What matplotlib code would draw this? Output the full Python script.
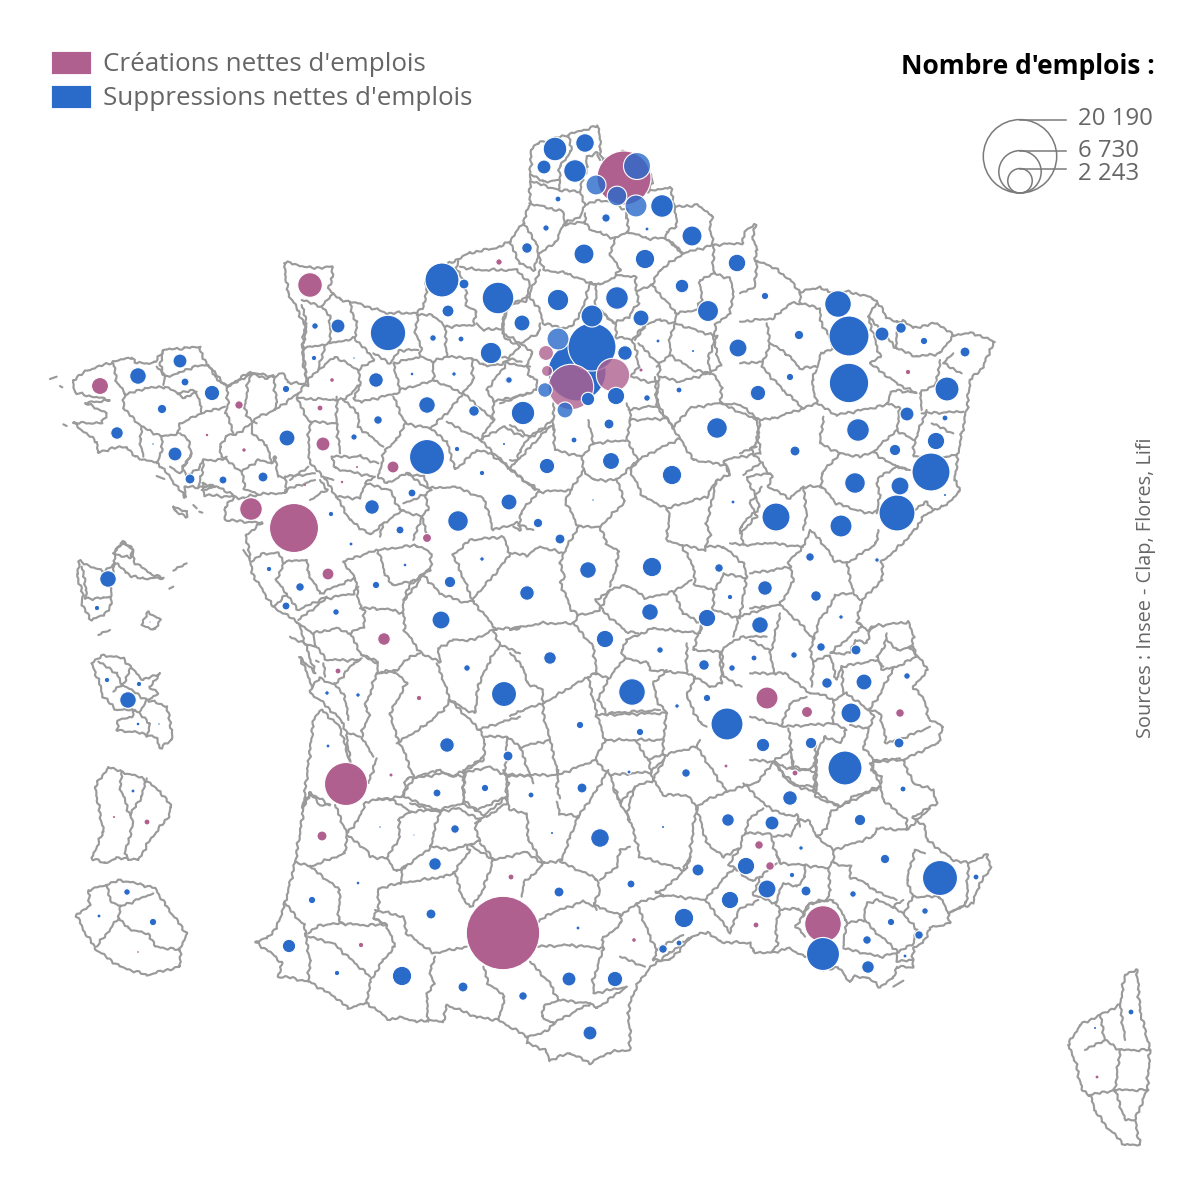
import numpy as np
import matplotlib
matplotlib.use("Agg")
import matplotlib.pyplot as plt
from matplotlib.patches import Circle, Rectangle
from matplotlib.collections import LineCollection

BLUE = "#2a6bca"
PURPLE = "#b0608f"
GREY = "#9a9a9a"
TXT = "#666666"
plt.rcParams["font.family"] = ["Open Sans", "DejaVu Sans"]

# bubbles: x, y, number of jobs
crea_x = [503,294,346,624,823,251,310,100,767,323,393,328,384,322,807,900,427,239,320,499,338,419,795,759,770,756,511,361,634,147,1097,908,332,357,342,305,207,244,391,726,114,138,641]
crea_y = [933,528,784,178,924,509,285,386,698,444,467,574,639,836,712,713,538,405,408,262,671,698,773,845,866,925,877,945,940,822,1077,372,380,467,482,485,435,450,775,766,817,952,370]
crea_n = [20190,9004,6934,10935,5023,1915,2269,1084,1815,735,540,540,595,375,454,277,304,265,135,154,135,109,135,277,277,135,135,109,49,135,60,109,49,15,22,15,22,43,34,60,15,10,34]
crea_fade_x = [571,613,546,547]
crea_fade_y = [387,375,353,371]
crea_fade_n = [7729,4183,844,454]

supp_x = [555,585,544,575,662,558,606,546,647,692,527,584,645,737,498,558,617,682,708,522,641,592,592,577,625,616,588,609,523,508,647,679,658,693,738,757,717,
          442,464,448,388,338,315,314,354,433,461,491,376,412,454,509,427,474,378,354,287,427,457,504,482,547,412,372,331,400,458,509,538,351,
          180,138,185,212,162,117,175,153,190,223,263,286,
          269,300,286,376,405,450,482,441,336,467,504,358,327,328,447,508,485,437,
          574,611,672,733,593,560,588,652,527,719,730,765,760,650,707,605,550,660,754,704,732,707,632,677,580,640,727,
          838,849,849,882,901,924,965,947,907,945,936,931,858,895,900,855,897,945,841,776,765,799,790,758,795,
          810,877,816,841,794,821,856,907,827,864,851,899,811,763,845,903,790,860,
          629,686,728,772,663,801,885,698,746,631,792,940,976,767,806,853,730,925,891,684,867,919,905,663,679,823,868,
          531,582,455,552,600,380,414,435,358,559,312,431,578,289,337,402,463,523,569,615,590,
          108,97,150,107,139,128,138,159,133,127,99,153,1131,1095]
supp_y = [149,143,167,171,206,199,218,228,229,236,248,254,259,263,298,300,298,286,311,323,318,316,347,372,353,396,399,424,413,380,398,390,341,351,348,393,428,
          280,284,311,333,326,326,358,358,338,339,353,380,374,374,380,405,411,420,437,438,457,449,444,473,466,493,507,514,530,521,502,523,544,
          361,376,382,393,409,433,454,444,479,480,477,389,
          569,587,606,585,565,582,559,620,612,668,694,695,693,746,745,756,788,793,
          440,461,475,502,500,539,570,567,593,568,597,588,625,612,618,639,658,650,658,665,668,698,692,706,725,732,724,
          304,336,383,334,328,341,352,389,414,418,441,472,430,450,486,483,513,495,526,517,296,335,377,393,451,
          557,560,596,617,655,647,650,676,683,682,713,743,743,745,768,789,798,820,
          772,773,820,823,827,848,859,870,866,884,875,878,877,889,891,894,900,911,922,918,940,935,956,949,943,954,967,
          795,788,829,833,838,827,835,864,883,892,900,914,928,946,973,976,987,996,979,979,1033,
          579,608,622,680,684,700,724,724,791,892,916,922,1012,1028]
supp_n = [2089,1297,735,1915,1915,135,265,154,60,1500,421,1500,1411,1162,3745,1717,1915,694,1654,960,960,1815,8640,12615,799,1135,673,375,2054,163,163,135,60,15,1215,889,1591,
          4335,375,540,4699,735,163,109,7,163,135,1717,799,25,79,163,1033,421,277,154,960,4594,109,15,109,889,240,799,109,240,1591,960,331,60,
          735,1033,240,889,331,595,735,7,375,240,375,205,
          109,277,240,205,25,487,79,1215,163,163,2344,79,79,60,799,375,205,240,
          135,1084,1411,60,7,375,1033,1411,799,277,109,799,1033,1033,1135,1135,595,163,135,421,163,205,2653,79,205,205,3840,
          2653,6000,5821,735,421,205,375,2160,735,135,1135,5415,1915,487,1215,1591,4860,15,1815,2940,205,331,205,889,375,
          277,79,421,79,163,277,375,163,421,960,1500,375,487,673,4335,135,799,487,
          60,277,595,735,15,79,331,540,1135,240,109,4594,135,1215,375,163,1135,163,205,1411,277,277,60,277,135,4084,595,
          135,375,277,15,1297,7,4,595,25,375,205,375,60,673,109,1411,375,277,735,889,735,
          1033,109,4,109,109,1033,25,7,60,163,60,205,135,15]
supp_fade_x = [637,596,617,636,558,545,565]
supp_fade_y = [166,185,196,206,339,390,410]
supp_fade_n = [2734,1500,1441,1815,1815,799,960]

legend_labels = ["Créations nettes d'emplois", "Suppressions nettes d'emplois"]
legend_vals = [20190, 6730, 2243]
legend_txt = ["20 190", "6 730", "2 243"]
legend_txt_y = [119, 151, 174]

france = [(531,150),(538,143),(567,135),(597,126),(600,133),(600,150),(603,160),(623,152),(650,170),(652,183),(647,192),(670,187),(675,207),(697,205),(712,215),(710,227),(713,245),(743,243),(745,230),(755,225),(753,240),(757,250),(755,262),(765,263),(777,270),(790,280),(800,292),(820,287),(828,292),(850,292),(873,298),(878,303),(887,317),(897,323),(903,320),(913,328),(937,323),(953,335),(973,333),(995,342),(990,350),(983,367),(970,380),(967,407),(962,433),(958,453),(955,480),(960,492),(943,507),(933,510),(923,517),(915,530),(903,543),(882,562),(882,580),(862,600),(857,622),(868,630),(877,625),(883,625),(908,622),(914,637),(910,648),(917,655),(928,670),(913,687),(925,700),(928,718),(943,727),(938,743),(903,760),(913,783),(933,790),(937,803),(913,817),(925,827),(927,840),(953,860),(968,863),(987,855),(991,867),(978,887),(973,903),(948,913),(950,923),(930,928),(923,943),(913,948),(913,967),(897,967),(893,978),(880,987),(867,977),(853,977),(850,982),(838,967),(823,970),(807,957),(787,948),(773,953),(753,952),(750,943),(720,942),(708,932),(690,937),(670,953),(653,965),(640,980),(632,997),(628,1013),(630,1030),(630,1050),(610,1052),(590,1063),(570,1053),(550,1060),(545,1050),(527,1043),(528,1037),(498,1020),(477,1017),(447,1005),(443,1022),(427,1020),(415,1022),(403,1017),(390,1020),(367,1003),(348,1008),(335,997),(310,982),(287,977),(278,977),(282,963),(270,952),(255,942),(267,938),(277,927),(285,903),(295,863),(302,820),(303,808),(310,793),(320,805),(330,805),(310,793),(303,808),(314,717),(322,710),(340,727),(350,763),(347,737),(343,722),(320,700),(310,693),(312,685),(300,657),(315,673),(298,622),(273,607),(252,573),(250,558),(246,535),(262,523),(225,520),(225,507),(235,497),(205,495),(202,483),(215,487),(185,487),(185,497),(162,467),(157,463),(135,457),(127,447),(112,448),(98,453),(97,442),(73,423),(102,423),(107,413),(85,403),(110,400),(75,393),(73,380),(88,370),(113,362),(132,357),(135,363),(155,363),(163,350),(185,348),(200,347),(202,357),(208,365),(227,387),(245,375),(252,372),(272,377),(283,373),(288,382),(308,385),(305,367),(302,347),(305,327),(298,310),(288,293),(284,263),(290,263),(310,268),(332,267),(333,277),(328,288),(340,300),(353,302),(387,313),(417,313),(423,307),(427,292),(425,283),(450,263),(470,253),(500,247),(509,242),(523,223),(530,203),(530,185),(531,150)]
corsica = [(1125,975),(1137,970),(1140,1010),(1150,1050),(1147,1090),(1135,1120),(1140,1145),(1125,1145),(1105,1125),(1095,1110),(1090,1095),(1082,1090),(1075,1060),(1068,1045),(1080,1025),(1100,1015),(1120,1005),(1125,975)]
corsica_in = [[(1100,1015),(1105,1040),(1120,1050),(1150,1050)],[(1120,1050),(1115,1090),(1147,1090)],[(1085,1050),(1105,1040)],[(1090,1095),(1115,1090)],[(1115,1090),(1125,1120),(1135,1120)],[(1120,1005),(1125,1040)]]
raccords = [[(510,653),(523,667),(527,683),(543,690),(543,703),(520,711),(510,716)],[(543,703),(543,713),(550,740)],[(507,737),(520,747),(550,740)],[(520,747),(530,775)],[(530,775),(558,775),(595,760)],[(550,740),(558,775)],[(530,775),(505,775),(507,737)],[(588,677),(597,715),(605,740),(595,760),(610,775),(620,803)],[(610,775),(650,772),(664,760),(663,740),(605,740)],[(597,715),(667,713)],[(653,780),(664,760)],[(713,337),(720,365),(712,372),(722,388),(720,403),(740,405)],[(720,403),(757,420)],[(655,377),(657,403),(673,428),(680,438)],[(673,428),(690,408),(720,403)],[(770,543),(803,547)],[(510,630),(520,627)]]

# same thing but read on 3x crops, so they keep the crop origin
nord = [[(205,75),(215,125),(180,165),(178,240),(240,245),(250,200),(262,170),(258,140),(290,130),(300,150)],[(95,195),(130,215),(178,210)],[(95,215),(178,240)],[(240,245),(255,290),(240,320),(205,335),(195,345),(190,305),(130,290),(88,280)],[(255,285),(300,270),(330,275),(380,300),(378,325)],[(380,315),(385,365),(440,385),(495,385),(500,365),(530,350),(525,290)],[(255,310),(255,340),(275,360),(300,370),(345,385),(385,365)],[(195,345),(255,335)],[(345,385),(330,430),(360,480),(345,500),(300,525),(260,515),(200,490),(130,480),(115,430),(165,400),(190,345)],[(28,395),(60,460),(100,480),(115,440)],[(70,340),(110,400),(115,440)],[(495,385),(550,430),(480,480),(455,525),(410,545),(405,500),(350,495)],[(505,390),(550,430),(640,405)],[(640,405),(640,490),(690,505),(700,545)],[(640,490),(600,510),(605,570),(590,600),(530,610),(455,525)],[(700,545),(690,610),(650,640),(640,680)],[(410,545),(415,580),(385,620),(345,640),(285,590),(290,525),(270,520)],[(120,480),(85,560),(115,590),(130,640),(190,655),(215,650),(240,610),(250,590),(270,520)],[(285,590),(345,640),(350,680),(395,690),(440,640),(480,630),(525,640),(530,610)],[(395,690),(410,725),(415,770),(390,800)],[(440,640),(405,690)],[(525,640),(510,680),(510,735),(580,780),(630,790),(625,740),(650,680),(525,640)],[(415,700),(470,755),(480,770),(475,815),(470,890),(520,950)],[(470,770),(510,735)],[(480,800),(540,815),(625,790)],[(395,800),(440,815),(475,815)],[(380,880),(385,900),(440,890),(470,890)],[(390,900),(390,930),(500,925)],[(120,640),(115,670),(60,700),(10,670),(5,640),(30,585),(85,560)],[(60,700),(100,730),(80,760),(90,800),(110,810),(110,840),(0,880)],[(0,740),(65,755)],[(160,880),(160,960)]]
ouest = [[(205,310),(215,365),(240,400),(235,445)],[(240,405),(300,385),(360,380),(400,400),(420,415),(455,395)],[(360,350),(345,310),(355,270)],[(335,320),(360,350),(400,340),(445,320),(490,315)],[(360,350),(355,375)],[(400,400),(450,390),(465,430),(470,460)],[(490,315),(510,350),(545,380),(550,430),(540,460)],[(470,460),(540,440)],[(235,445),(290,500),(350,530),(400,520),(405,490),(470,460)],[(290,500),(285,540),(295,590)],[(350,530),(350,580),(335,610)],[(405,520),(430,540),(440,580),(405,640),(375,620)],[(440,580),(415,620),(425,650),(465,620),(475,600),(530,600),(545,590)],[(475,600),(470,650),(460,680)],[(530,590),(525,560),(545,525),(570,525),(620,490)],[(545,460),(565,520)],[(530,590),(590,635),(640,600),(680,610),(690,590),(700,650),(720,655)],[(590,635),(600,685),(640,705),(580,715),(520,680),(470,690)],[(620,520),(665,555),(680,610)],[(620,490),(640,470),(690,450),(760,400)],[(620,490),(620,520)],[(720,650),(810,640)],[(550,380),(620,340),(610,365),(600,440),(605,470),(635,490)],[(615,340),(660,355),(685,345),(695,430),(690,450)],[(720,650),(725,700),(670,700),(640,705)],[(720,690),(810,660)]]
centre_ouest = [[(35,95),(70,70),(115,70),(130,95),(200,90)],[(200,90),(205,130),(240,190),(320,155),(345,145),(310,95)],[(130,100),(110,150),(140,195),(100,230)],[(140,195),(175,240),(260,200)],[(175,270),(260,205),(340,190),(355,170)],[(345,145),(360,230),(375,245),(370,290),(330,310),(290,295),(220,310),(175,280)],[(220,310),(225,345)],[(330,310),(365,375),(410,400)],[(360,235),(410,235),(460,240),(490,250),(490,210),(510,165),(570,115)],[(310,95),(380,70),(415,60),(435,130),(455,165),(515,155),(570,120),(575,70),(530,45),(420,60)],[(490,250),(495,300),(525,345),(550,375)],[(540,370),(510,380),(470,420),(410,430)],[(365,375),(415,395),(410,430),(390,490),(375,530),(390,560),(365,600),(370,630),(400,680)],[(410,430),(465,425),(500,460),(450,550),(470,620),(490,660)],[(225,345),(260,390),(360,390)],[(215,470),(240,445),(285,465),(340,400),(365,385)],[(250,400),(255,440)],[(285,465),(315,500),(325,570)],[(325,610),(360,620)],[(550,375),(600,395),(595,355),(640,330),(700,330),(760,300),(780,345),(750,390),(715,465),(705,550),(680,540),(630,510),(610,450),(590,400)],[(630,510),(610,540),(550,590),(470,640)],[(490,660),(520,740),(500,745),(490,800),(410,810)],[(330,700),(385,760),(410,685)],[(630,510),(720,600),(735,640),(730,690),(640,740),(590,720),(520,745)],[(735,620),(800,620)],[(715,600),(790,575),(840,560)],[(730,680),(675,720),(670,820),(740,860)],[(670,730),(745,710),(800,735),(800,820),(740,860)],[(490,800),(590,840),(670,820)],[(495,210),(550,135),(600,190),(665,215),(700,215),(755,280),(770,300)],[(700,215),(640,75),(690,30),(790,20),(810,70),(775,120),(700,205)],[(760,300),(840,290)],[(780,345),(840,370)]]
sud_ouest = [[(255,105),(290,190),(325,150),(345,100),(385,85),(430,90),(480,125)],[(290,195),(285,250),(180,290),(135,275)],[(290,195),(350,240),(360,260),(410,265),(440,305),(470,285)],[(410,265),(450,200),(445,150),(480,125),(550,120),(570,125),(550,190),(545,230),(460,295),(450,340),(385,355),(385,415),(370,445),(400,460)],[(180,290),(250,345),(270,360),(265,450),(285,465)],[(480,100),(560,125),(625,115),(690,150),(675,175),(690,215),(650,225)],[(545,230),(610,240),(650,225),(660,240),(610,310),(580,320),(450,340)],[(615,310),(640,390),(660,410),(690,380),(720,300),(730,270),(660,225)],[(690,220),(735,270),(830,245),(880,285),(820,340),(815,380)],[(835,210),(880,280),(935,270),(960,200),(985,140),(930,130),(920,95)],[(835,210),(830,130),(780,120),(770,80),(675,160)],[(930,275),(1040,325),(1050,370),(1030,400),(1040,420)],[(860,460),(900,430),(1000,395),(1110,435),(1115,460),(1055,510),(1060,535)],[(860,530),(960,525),(1060,535),(1030,630),(1030,670),(1130,650)],[(840,575),(900,640),(925,690),(880,710),(875,740),(910,760),(890,785),(830,800)],[(650,530),(550,550),(470,490),(460,440),(375,420)],[(700,590),(715,640),(765,680),(745,750)],[(555,560),(540,600),(550,640),(530,680),(535,755)],[(370,445),(410,465),(435,530),(400,570),(360,635),(350,700)],[(175,490),(210,465),(280,460),(330,465),(410,465)],[(165,490),(180,570),(175,635)],[(175,500),(250,520),(360,620)],[(105,400),(160,465),(170,495)],[(910,760),(1020,700),(1040,715),(1130,650)],[(925,690),(1020,700)],[(455,80),(490,25),(580,10),(640,20)],[(640,0),(640,90),(680,120),(770,80),(775,40),(760,0)],[(770,20),(840,15),(850,40)],[(930,85),(920,45),(925,0)],[(985,140),(1040,60),(1075,0)],[(1090,60),(1140,150)],[(1140,230),(1110,240),(1100,290),(1050,330)]]
sud_est = [[(0,190),(45,140),(100,120),(130,165),(200,165),(230,200)],[(100,120),(85,60),(110,50),(230,20),(240,0)],[(85,60),(45,0)],[(230,20),(290,110),(320,155),(415,125)],[(320,155),(260,180),(230,200),(260,310),(310,350),(355,325)],[(230,200),(220,260),(210,350),(190,390),(60,350),(40,270),(20,220),(45,140)],[(415,125),(460,65),(490,80),(520,85),(510,30)],[(370,130),(435,195),(490,225),(530,225),(540,260)],[(460,65),(510,130),(580,155),(585,95),(510,85)],[(580,155),(660,200),(630,220),(620,265),(590,290),(640,330),(760,290),(770,265),(860,270),(930,205)],[(660,200),(780,140),(790,180),(860,240),(860,270)],[(585,0),(590,150)],[(780,130),(750,70),(840,55)],[(640,335),(640,370),(690,380),(690,410),(740,430),(760,450),(830,480)],[(385,240),(430,205)],[(385,240),(375,280),(365,300),(360,325),(325,375)],[(375,280),(450,280),(470,345),(480,370)],[(460,290),(510,285),(540,240),(565,240),(590,290)],[(470,345),(480,370),(550,375),(625,385),(635,365)],[(325,375),(345,385),(395,425),(420,410),(470,370)],[(420,410),(400,465),(470,490),(480,445),(490,430)],[(490,430),(530,440),(555,410),(555,375)],[(625,385),(630,450),(620,480),(565,490),(550,520)],[(255,480),(330,395),(345,385)],[(255,480),(310,550),(330,580)],[(130,450),(200,385),(210,350)],[(130,450),(105,455),(125,465),(175,470),(255,480)],[(50,490),(90,590),(110,630)],[(50,490),(130,465)],[(330,580),(355,510),(415,480)],[(465,490),(480,510),(465,570),(475,610),(455,635)],[(480,510),(535,505),(550,520),(530,560),(555,590)],[(550,530),(570,490),(640,480),(680,540),(670,620)],[(670,625),(780,650),(825,640)],[(680,550),(730,540),(740,490),(770,480),(820,500),(850,480)],[(735,540),(760,570),(830,630),(830,665)],[(830,640),(880,610),(890,570),(850,520),(880,470),(960,470),(985,520)],[(850,520),(820,500)],[(880,470),(860,420),(885,330),(915,340)],[(1045,370),(1040,490),(985,520)],[(830,665),(880,660)],[(0,650),(75,680)],[(110,630),(100,660),(150,660),(215,590)],[(110,630),(150,605),(190,585)],[(0,530),(50,490)]]
est = [[(0,130),(70,120),(120,110),(115,95),(160,50),(180,0)],[(180,0),(210,30),(240,70),(250,90),(290,100),(380,40),(385,0)],[(290,100),(310,190),(330,210)],[(120,110),(130,155),(90,225),(160,290),(190,330),(210,265),(240,230),(255,195),(305,190)],[(0,235),(90,225)],[(90,250),(60,380),(75,430),(105,430),(180,490)],[(190,330),(180,360),(190,395),(185,470)],[(190,395),(240,375),(260,450),(275,410),(380,390),(400,410)],[(320,275),(335,290),(240,370),(300,370),(315,330),(350,340),(360,300),(375,290)],[(410,310),(400,360),(380,380),(400,420),(440,410),(500,380)],[(410,330),(440,360),(490,350),(500,380)],[(430,415),(380,510),(355,540),(290,490),(250,510),(205,490),(180,490)],[(275,410),(280,490)],[(250,510),(250,580),(290,600),(270,640),(225,620),(200,670),(195,800),(270,830)],[(100,590),(250,580)],[(115,595),(125,660),(70,695),(110,740),(135,765),(195,770)],[(125,680),(130,710),(180,720),(200,690)],[(360,545),(370,560),(340,650),(370,690),(460,690)],[(360,540),(390,550),(410,640),(470,620),(540,590)],[(355,595),(300,585)],[(370,690),(365,720),(395,740),(390,770),(310,800),(270,830)],[(0,430),(75,430)],[(95,585),(120,520),(170,500)],[(60,360),(0,330)],[(0,560),(100,590)],[(0,690),(70,695)]]
centre = [[(0,15),(60,50),(130,0)],[(130,15),(135,90),(215,110),(250,70),(235,0)],[(0,120),(20,125),(30,90),(60,50),(130,15)],[(215,110),(220,150),(250,180),(320,180),(385,120),(350,60),(250,70)],[(385,120),(360,150),(400,230),(470,265),(480,290),(470,340),(475,365),(515,375),(550,440)],[(360,0),(350,60)],[(385,120),(440,90),(510,55),(550,120),(650,135),(660,165),(620,180),(590,230),(470,265)],[(660,165),(640,120),(750,100),(740,0)],[(320,180),(345,245),(270,320),(290,370),(325,395),(320,440),(300,500)],[(220,150),(165,240),(185,280),(205,320),(270,320)],[(0,150),(70,200),(90,215),(185,210)],[(85,215),(30,280),(30,330),(10,320)],[(205,320),(160,400),(90,380)],[(160,400),(150,430),(165,470),(150,485),(185,570),(205,585),(265,575),(300,510)],[(0,400),(50,405),(90,380)],[(205,585),(190,610),(90,610),(0,630)],[(190,610),(250,680),(260,760),(235,770),(100,850)],[(300,510),(260,540),(280,575),(350,635),(385,640)],[(300,510),(350,495),(410,535),(490,515),(545,480)],[(490,515),(520,580),(575,610),(550,690),(630,695),(660,670)],[(575,610),(570,640),(430,625),(350,660),(335,690),(345,715),(415,730),(420,750),(530,760)],[(250,760),(295,775),(345,715)],[(295,775),(265,840),(290,880),(450,870)],[(530,670),(530,760),(555,770),(600,800),(635,790),(630,695)],[(635,695),(640,770),(695,800)],[(555,770),(530,830),(570,910),(590,920)],[(660,670),(700,650),(770,650)],[(470,750),(430,790),(440,840),(470,880),(460,960)],[(515,375),(585,390),(600,340),(590,310),(620,180)],[(550,440),(555,495),(610,510),(635,480),(640,460),(710,475)],[(585,380),(640,380),(700,430),(710,470),(695,560),(670,650)],[(610,510),(610,570),(690,595)],[(660,370),(700,375),(780,370)],[(700,370),(690,320),(750,260),(710,170),(780,160)],[(690,590),(780,560)]]
nord_est = [[(50,125),(45,200),(0,220)],[(180,215),(180,250),(150,250),(100,295),(0,305)],[(180,250),(240,265),(240,300),(265,345),(280,385)],[(80,310),(90,370),(140,400),(180,445),(230,440),(245,400),(280,385)],[(90,370),(65,440),(130,510),(190,565),(230,550),(215,480),(230,450)],[(65,425),(0,430)],[(230,550),(290,585),(440,555),(450,520),(470,510),(530,520),(470,490),(390,430),(420,410),(385,290),(410,250)],[(385,290),(470,385),(470,320)],[(470,385),(530,410),(600,400),(640,345)],[(600,420),(590,490),(540,520),(545,570)],[(665,460),(610,430),(640,400)],[(440,550),(480,565),(470,630),(520,660)],[(545,580),(670,575)],[(560,570),(525,660),(520,710),(620,710),(650,705)],[(575,610),(640,640)],[(470,630),(400,695),(440,725),(500,750)],[(60,600),(100,595),(190,565)],[(60,600),(50,670),(30,685),(65,730),(95,770),(85,800),(150,835),(190,800),(245,800)],[(250,590),(240,670),(300,700),(360,710),(400,695)],[(300,700),(245,760),(245,800),(290,850),(380,880),(415,870)],[(60,600),(0,555)],[(190,805),(200,880),(190,930)],[(410,790),(420,770),(470,740),(510,750)],[(410,790),(420,830),(410,880)],[(525,870),(560,845),(580,870)],[(0,700),(50,680)],[(10,765),(60,730)],[(65,800),(30,850),(50,890),(0,940)]]
normandie = [[(35,150),(95,170),(130,130)],[(35,165),(50,220),(40,290),(40,340),(50,390)],[(95,170),(120,200),(120,280),(40,295)],[(105,285),(85,360),(50,390)],[(180,155),(185,190),(200,215),(195,265),(120,280)],[(195,270),(240,310),(250,330),(205,360),(135,320),(85,360)],[(250,310),(300,340),(330,300),(385,300)],[(385,195),(375,240),(395,300),(390,320),(310,340),(330,420)],[(380,195),(430,195),(465,230),(550,225),(560,185),(530,170),(525,100),(500,60),(505,30)],[(465,230),(470,320),(430,335),(395,320)],[(470,320),(545,325),(550,390),(520,430),(430,390),(430,335)],[(205,360),(210,405),(160,450),(20,445),(50,390)],[(210,405),(190,445),(215,455),(320,430),(330,420),(420,395),(430,390)],[(545,325),(580,345),(635,345),(690,290),(640,260),(640,235),(580,240),(560,220)],[(640,230),(650,170),(710,150),(720,100),(680,60),(560,60),(510,50)],[(310,440),(345,520),(420,535),(470,490),(520,430)],[(160,450),(205,490),(205,530),(280,590)],[(345,520),(320,570),(285,600),(275,640),(265,680),(290,700),(350,670),(400,680),(420,715),(495,710)],[(420,535),(470,575),(490,640),(495,660),(560,600),(600,610),(660,655)],[(470,515),(570,570),(610,510),(610,450),(590,420),(650,340),(720,350)],[(520,430),(610,510)],[(610,455),(720,430)],[(570,570),(660,655),(750,560),(780,530)],[(570,570),(640,530),(700,560)],[(660,655),(735,720)],[(495,710),(580,745),(590,770),(610,840),(680,820),(730,840)],[(405,735),(415,780),(395,800),(410,850)],[(350,670),(420,720),(405,735),(340,760)],[(20,445),(60,520),(55,570),(60,640)],[(140,440),(140,520),(150,610)],[(60,515),(140,520)],[(60,640),(100,680),(130,690)],[(125,620),(210,620),(265,640)],[(125,620),(135,655),(250,680)],[(100,680),(140,740),(210,745),(225,700),(255,680)],[(140,740),(180,810),(240,855),(280,820)],[(225,700),(300,720),(330,780),(395,800)],[(270,860),(280,820),(340,780)],[(370,870),(395,800)],[(0,690),(55,650)],[(90,690),(110,720),(60,750)]]
domtom = [[(165,65),(190,35),(215,50),(222,95),(270,130),(310,145),(250,145),(215,140),(200,125),(165,100),(165,65)],[(165,100),(130,125),(60,95),(50,130),(70,200),(65,225),(95,270),(130,255),(155,225),(150,150),(165,100)],[(65,110),(80,180),(75,205),(130,205),(150,200)],[(245,285),(265,245),(300,270),(285,300),(245,285)],[(115,315),(150,300)],[(340,122),(380,100)],[(328,176),(340,170)],[(95,400),(130,375),(190,385),(215,415),(250,450),(300,430),(270,470),(295,490),(265,510),(320,530),(335,600),(335,630),(300,655),(290,625),(250,610),(170,600),(175,570),(215,560),(225,540),(170,540),(130,500),(115,450),(95,400)],[(115,395),(170,430),(185,465),(160,485)],[(210,415),(190,465),(260,510),(240,545)],[(225,540),(270,580),(260,620)],[(145,712),(185,725),(250,745),(300,785),(335,830),(325,860),(270,930),(235,990),(200,985),(165,985),(135,1000),(95,985),(130,905),(105,770),(145,712)],[(185,725),(180,770),(210,855),(220,880),(195,970),(205,990)],[(210,855),(245,800),(260,745)],[(140,1065),(180,1050),(250,1065),(285,1075),(320,1130),(380,1210),(360,1260),(360,1310),(260,1335),(180,1310),(110,1260),(70,1200),(50,1155),(90,1125),(85,1080),(140,1065)],[(140,1065),(150,1110),(180,1130),(280,1090)],[(180,1130),(175,1165),(110,1250)],[(175,1165),(205,1195),(270,1215),(285,1250),(360,1260)]]
iles = [[(15,357),(35,350)],[(45,378),(52,382)],[(55,493),(65,498)],[(335,648),(358,657)],[(385,740),(390,755),(425,770),(425,755),(385,740)],[(445,735),(455,745)],[(463,755),(472,758)],[(595,870),(605,885),(615,895)],[(205,880),(235,845),(262,870),(255,895),(205,880)]]
re_oleron = [[(150,320),(165,330),(225,350)],[(228,392),(236,396)]]
sud_corse = [[(820,740),(850,722)]]


def from_crop(lines, x0, y0):
    return [[(x0 + px / 3, y0 + py / 3) for px, py in line] for line in lines]


def rough(line):
    # borders are jagged on the map, the traced points are not
    pts = np.array(line, dtype=float)
    d = np.hypot(*np.diff(pts, axis=0).T)
    keep = np.r_[True, d > 0]
    pts = pts[keep]
    s = np.r_[0, np.cumsum(np.hypot(*np.diff(pts, axis=0).T))]
    if s[-1] < 12:
        return pts
    t = np.arange(0, s[-1], 2.5)
    t = np.union1d(np.r_[t, s[-1]], s)
    x = np.interp(t, s, pts[:, 0])
    y = np.interp(t, s, pts[:, 1])
    dx, dy = np.gradient(x), np.gradient(y)
    n = np.hypot(dx, dy) + 1e-9
    w = 0.75 * np.sin(t * 0.83) + 0.55 * np.sin(t * 1.9 + 1) + 0.5 * np.sin(t * 0.31 + 2)
    w *= np.clip(np.minimum(t, s[-1] - t) / 6, 0, 1)
    return np.c_[x - dy / n * w, y + dx / n * w]


segs = [france, corsica] + corsica_in + raccords
segs += from_crop(nord, 500, 110)
segs += from_crop(ouest, 45, 260)
segs += from_crop(iles, 45, 260)
segs += from_crop(centre_ouest, 240, 530)
segs += from_crop(re_oleron, 240, 530)
segs += from_crop(sud_ouest, 250, 770)
segs += from_crop(sud_est, 620, 740)
segs += from_crop(sud_corse, 620, 740)
segs += from_crop(est, 750, 530)
segs += from_crop(centre, 510, 420)
segs += from_crop(nord_est, 740, 220)
segs += from_crop(normandie, 290, 250)
segs += from_crop(domtom, 60, 530)

fig = plt.figure(figsize=(12.01, 12.01), dpi=100)
ax = fig.add_axes([0, 0, 1, 1])
ax.set_xlim(0, 1201)
ax.set_ylim(1201, 0)
ax.set_aspect("equal")
ax.axis("off")

ax.add_collection(LineCollection([rough(s) for s in segs], colors=GREY, linewidths=1.55, joinstyle="round", capstyle="round", zorder=1))

K = 36.7 ** 2 / 20190


def radius(n):
    return np.sqrt(n * K)


bubbles = []
for xs, ys, ns, col, alpha in [(crea_x, crea_y, crea_n, PURPLE, 1), (supp_x, supp_y, supp_n, BLUE, 1),
                               (crea_fade_x, crea_fade_y, crea_fade_n, PURPLE, 0.8),
                               (supp_fade_x, supp_fade_y, supp_fade_n, BLUE, 0.8)]:
    for x, y, n in zip(xs, ys, ns):
        bubbles.append((n, x, y, col, alpha))
bubbles.sort(key=lambda b: -b[0])
for i, (n, x, y, col, alpha) in enumerate(bubbles):
    r = radius(n)
    ax.add_patch(Circle((x, y), r, facecolor=col, edgecolor="none", alpha=alpha, zorder=2 + i * 0.01))
    ax.add_patch(Circle((x, y), r, facecolor="none", edgecolor="white", linewidth=0.8 if r > 2 else 0, zorder=2 + i * 0.01))

# legend
for y0, col, lab in zip([51, 85], [PURPLE, BLUE], legend_labels):
    ax.add_patch(Rectangle((51, y0), 40, 22.5, facecolor=col, edgecolor="white", linewidth=0.6, zorder=3))
    ax.text(103, y0 + 13.5, lab, fontsize=18.75, color=TXT, va="center", ha="left")
ax.text(1155, 67, "Nombre d'emplois :", fontsize=19, fontweight="bold", color="black", va="center", ha="right")
for v, lab, ty in zip(legend_vals, legend_txt, legend_txt_y):
    r = radius(v)
    ax.add_patch(Circle((1020, 193 - r), r, facecolor="none", edgecolor="#7a7a7a", linewidth=1.1, zorder=3))
    ax.plot([1020, 1066], [193 - 2 * r, 193 - 2 * r], color="#7a7a7a", lw=1.1, zorder=3)
    ax.text(1078, ty, lab, fontsize=17.3, color=TXT, va="center", ha="left")

ax.text(1146, 588, "Sources : Insee - Clap, Flores, Lifi", fontsize=14.35, color=TXT, rotation=90, va="center", ha="center")

fig.savefig("out.png", dpi=100, facecolor="white")
